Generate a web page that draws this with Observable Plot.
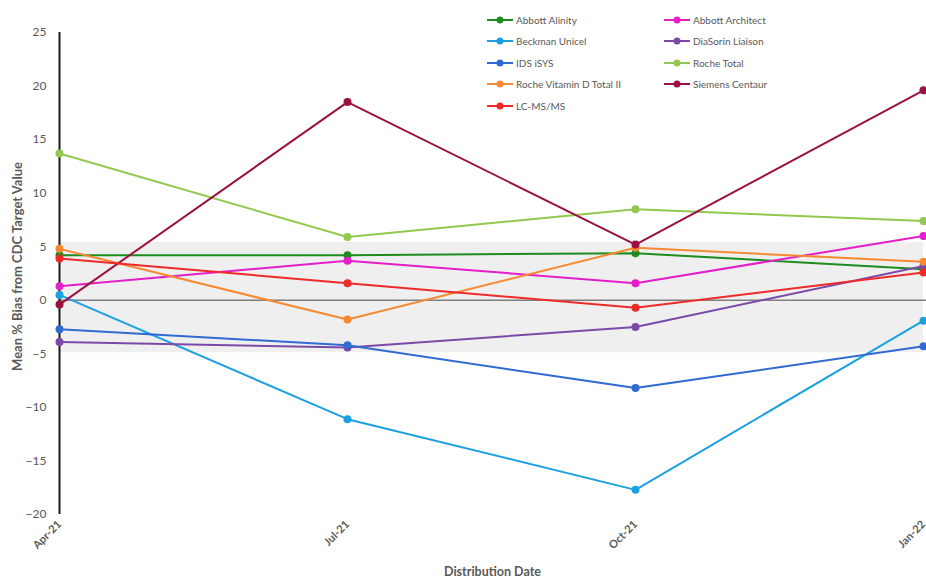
<!DOCTYPE html>
<html>
<head>
<meta charset="utf-8">
<script src="https://cdn.jsdelivr.net/npm/d3@7"></script>
<script src="https://cdn.jsdelivr.net/npm/@observablehq/plot@0.6"></script>
<style>
  html, body { margin: 0; padding: 0; background: #fff; }
  #wrap { position: relative; width: 926px; height: 579px; overflow: hidden; font-family: Lato, "Open Sans", sans-serif; }
  #legend { position: absolute; left: 487px; top: 9px; display: grid; grid-template-columns: 177px 177px; grid-auto-rows: 21.5px; font-size: 10px; color: #595959; }
  #legend .item { display: flex; align-items: center; }
  #legend svg { margin-right: 3px; flex: none; }
</style>
</head>
<body>
<div id="wrap"><div id="chart"></div><div id="legend"></div></div>
<script>
const dates = ["Apr-21", "Jul-21", "Oct-21", "Jan-22"];
const seriesNames = ["Abbott Alinity", "Abbott Architect", "Beckman Unicel", "DiaSorin Liaison", "IDS iSYS", "Roche Total", "Roche Vitamin D Total II", "Siemens Centaur", "LC-MS/MS"];
const seriesColors = ["#1e8c1e", "#e41ec8", "#1ba1e2", "#7b4aa8", "#2f6bd0", "#92c850", "#f58a32", "#9b1040", "#ee2a2a"];

const abbottAlinity   = [4.2, 4.2, 4.4, 2.9];
const abbottArchitect = [1.3, 3.7, 1.6, 6.0];
const beckmanUnicel   = [0.5, -11.1, -17.7, -1.9];
const diasorinLiaison = [-3.9, -4.4, -2.5, 3.2];
const idsIsys         = [-2.7, -4.2, -8.2, -4.3];
const rocheTotal      = [13.7, 5.9, 8.5, 7.4];
const rocheVitDTotal2 = [4.8, -1.8, 4.9, 3.6];
const siemensCentaur  = [-0.4, 18.5, 5.2, 19.6];
const lcmsms          = [3.9, 1.6, -0.7, 2.6];

const bandLow = -4.9;
const bandHigh = 5.4;
const yTicks = [-20, -15, -10, -5, 0, 5, 10, 15, 20, 25];

const allValues = [abbottAlinity, abbottArchitect, beckmanUnicel, diasorinLiaison, idsIsys, rocheTotal, rocheVitDTotal2, siemensCentaur, lcmsms];
const data = [];
seriesNames.forEach((name, i) => {
  allValues[i].forEach((v, j) => data.push({series: name, date: dates[j], value: v}));
});
const band = dates.map(d => ({date: d, lo: bandLow, hi: bandHigh}));

const textColor = "#595959";

const chart = Plot.plot({
  width: 926,
  height: 579,
  marginLeft: 58,
  marginRight: 0,
  marginTop: 32,
  marginBottom: 65,
  style: {fontFamily: "Lato, 'Open Sans', sans-serif", color: textColor, background: "#fff"},
  x: {type: "point", domain: dates, range: [58, 923], padding: 0, label: null},
  y: {domain: [-20, 25], range: [514, 32], label: null},
  color: {domain: seriesNames, range: seriesColors},
  marks: [
    Plot.areaY(band, {x: "date", y1: "lo", y2: "hi", fill: "#efefef"}),
    Plot.ruleY([0], {stroke: "#7f7f7f", strokeWidth: 1.5}),
    Plot.ruleX([dates[0]], {y1: -20, y2: 25, stroke: "#1a1a1a", strokeWidth: 2}),
    Plot.axisY({ticks: yTicks, tickSize: 0, tickPadding: 12, fontSize: 12, fill: textColor, label: null}),
    Plot.axisX({tickSize: 0, tickRotate: -45, tickPadding: 8, fontSize: 11, fill: textColor, fontWeight: "bold", label: null}),
    Plot.line(data, {x: "date", y: "value", z: "series", stroke: "series", strokeWidth: 2}),
    Plot.dot(data, {x: "date", y: "value", fill: "series", r: 4}),
    Plot.text(["Distribution Date"], {frameAnchor: "bottom", dy: 61, fontSize: 12.5, fontWeight: "bold", fill: textColor}),
    Plot.text(["Mean % Bias from CDC Target Value"], {frameAnchor: "left", textAnchor: "middle", dx: -41, dy: -7, rotate: -90, fontSize: 13, fontWeight: "bold", fill: textColor})
  ]
});
document.getElementById("chart").appendChild(chart);

const legend = document.getElementById("legend");
seriesNames.forEach((name, i) => {
  const item = document.createElement("div");
  item.className = "item";
  const c = seriesColors[i];
  item.innerHTML = `<svg width="26" height="10"><line x1="0" y1="5" x2="26" y2="5" stroke="${c}" stroke-width="2"/><circle cx="13" cy="5" r="3.5" fill="${c}"/></svg><span>${name}</span>`;
  legend.appendChild(item);
});
</script>
</body>
</html>
